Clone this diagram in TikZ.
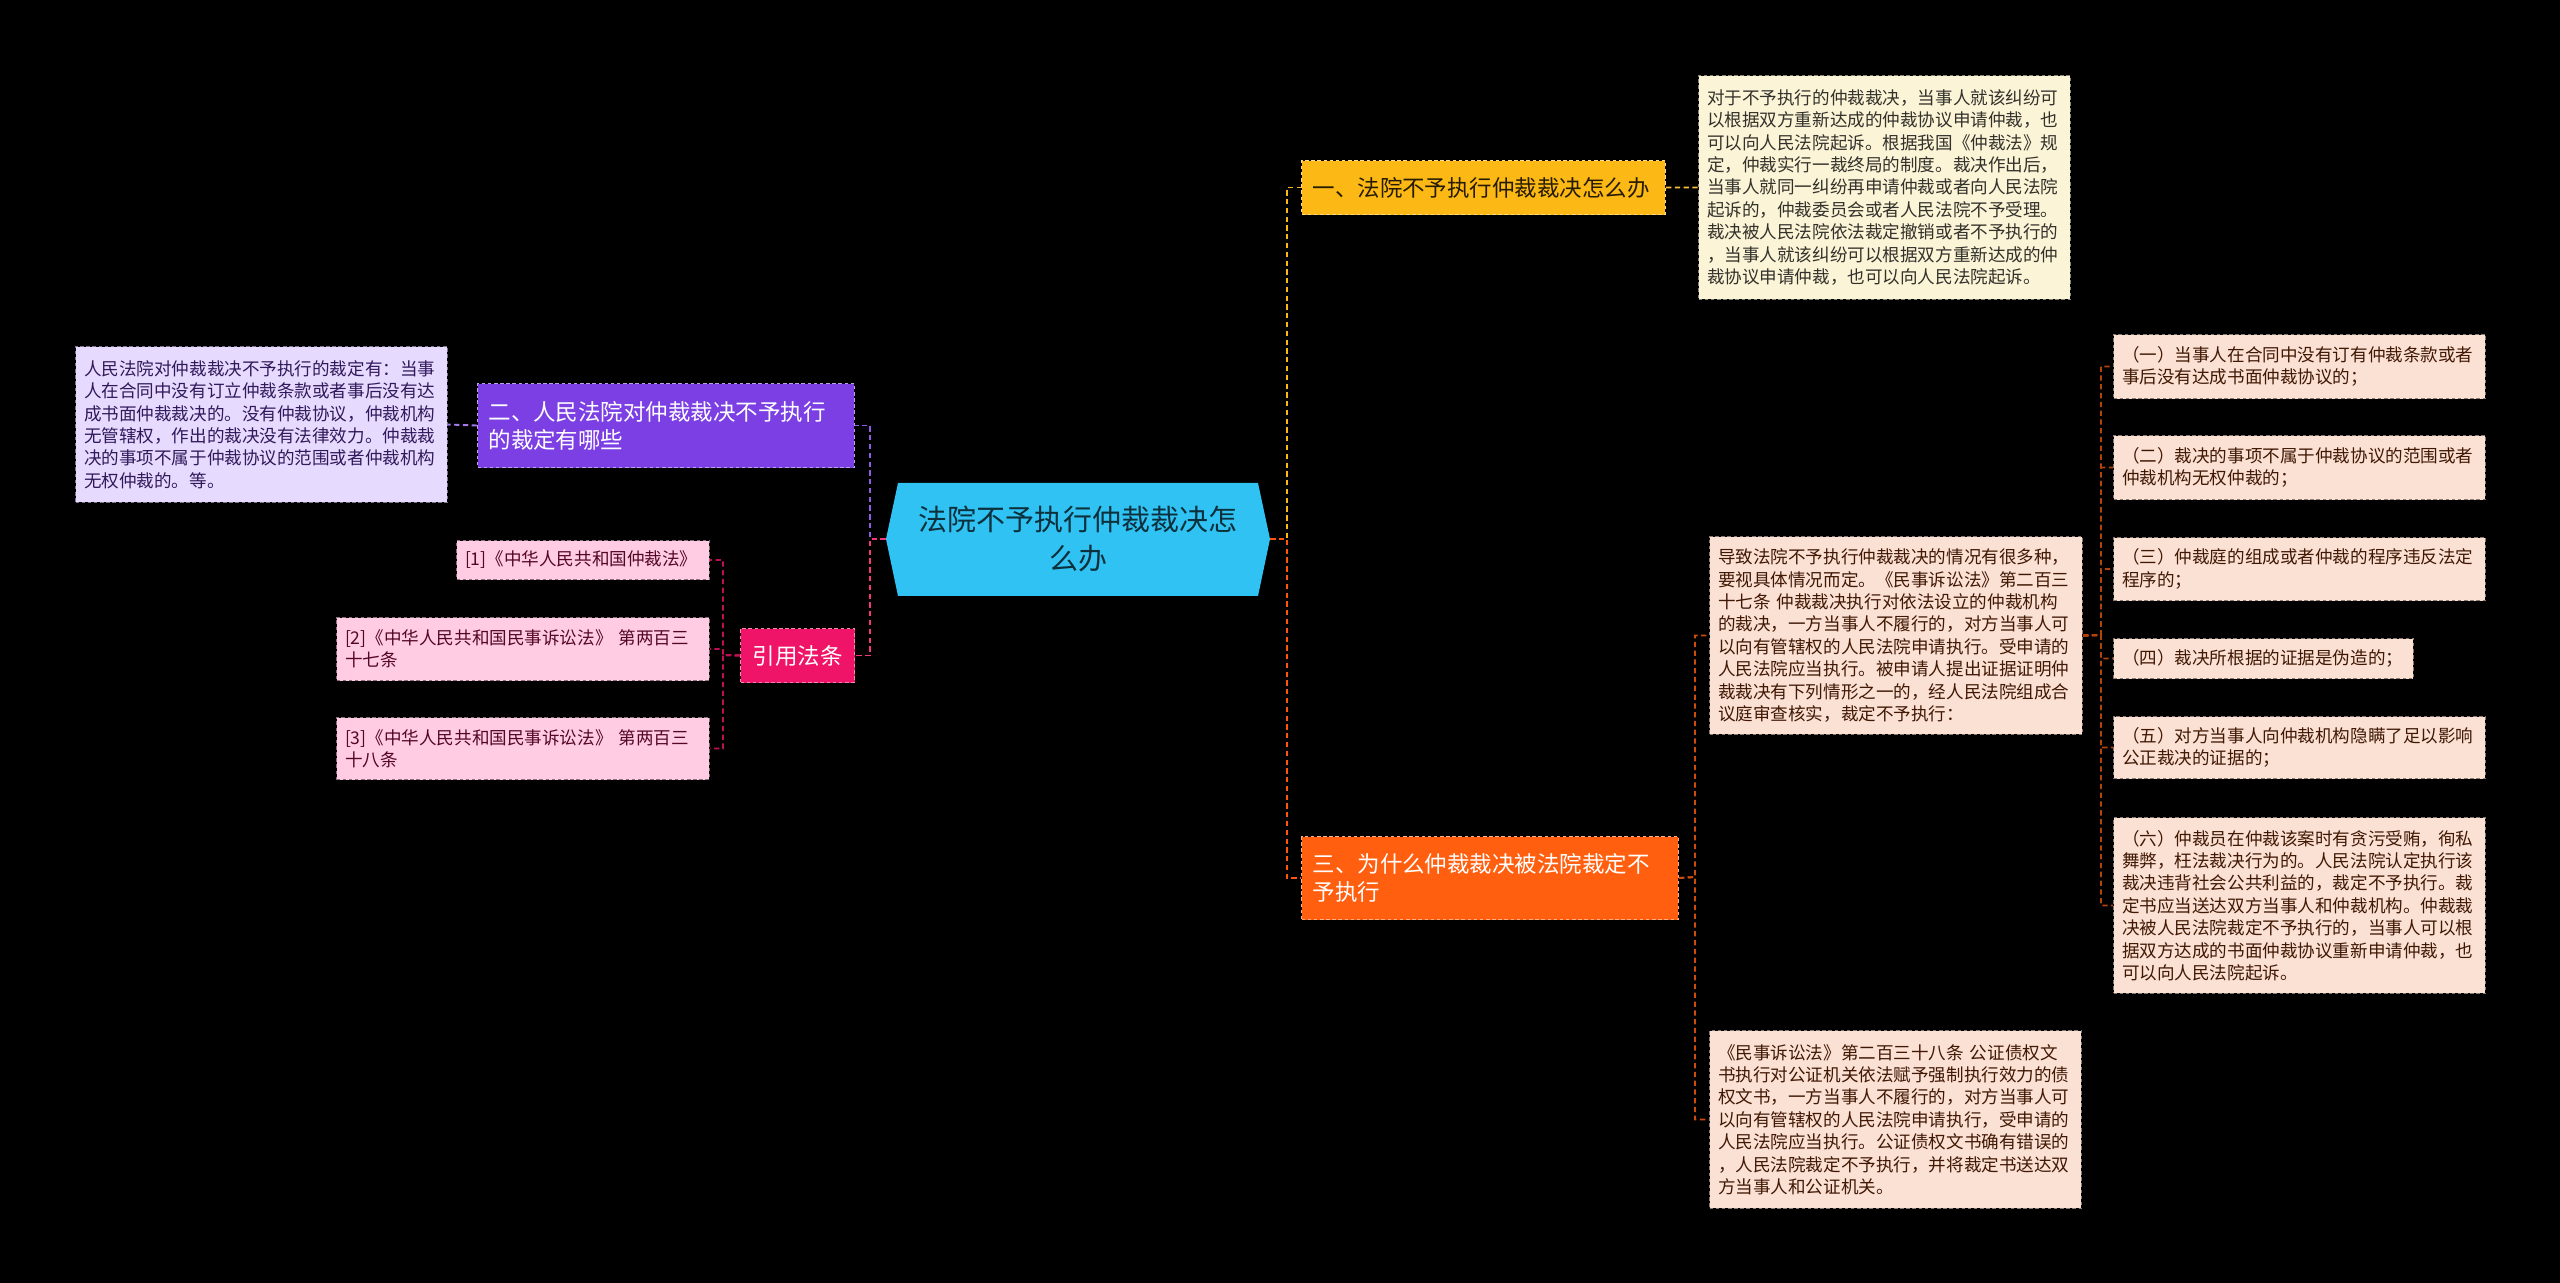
\documentclass[tikz,border=0pt]{standalone}
\usepackage{fontspec}
\setmainfont{Noto Sans CJK SC}
\usepackage{tikz}
\usepackage{xcolor}

\definecolor{rootblue}{HTML}{30C2F2}
\definecolor{qyellow}{HTML}{FCB814}
\definecolor{qpurple}{HTML}{7B3FE4}
\definecolor{qorange}{HTML}{FF5F0F}
\definecolor{qpink}{HTML}{F01468}
\definecolor{fyellow}{HTML}{FCF4D6}
\definecolor{fpurple}{HTML}{E6DBFF}
\definecolor{forange}{HTML}{FBE1D4}
\definecolor{fpink}{HTML}{FFCCE4}

\begin{document}
\begin{tikzpicture}[x=0.02cm,y=-0.02cm,
    link/.style={line width=1.1pt,dash pattern=on 3pt off 2pt},
    note/.style={anchor=north west,align=left,inner xsep=0.17cm,inner ysep=0pt,
        line width=0.6pt,dash pattern=on 2pt off 1.5pt,
        font=\fontsize{10pt}{12.75pt}\selectfont},
    noteY/.style={note,fill=fyellow,draw=fyellow!55!black,text=black!80!fyellow},
    noteP/.style={note,fill=fpurple,draw=fpurple!55!black,text=qpurple!40!black},
    noteO/.style={note,fill=forange,draw=forange!55!black,text=qorange!25!black},
    noteR/.style={note,fill=fpink,draw=fpink!55!black,text=qpink!35!black},
    topic/.style={anchor=north west,align=left,inner xsep=0.22cm,inner ysep=0pt,
        line width=0.6pt,dash pattern=on 2pt off 1.5pt,
        font=\fontsize{12.8pt}{16pt}\selectfont}]

    \fill[black] (0,0) rectangle (2560,1283);
    \useasboundingbox (0,0) rectangle (2560,1283);

    \fill[rootblue] (898,483) -- (1258,483) -- (1270,539) -- (1258,596)
        -- (898,596) -- (886,539) -- cycle;
    \node[minimum width=7.68cm,minimum height=2.26cm,text width=6.8cm,align=center,
        text=rootblue!25!black,font=\fontsize{16.5pt}{21.8pt}\selectfont]
        (root) at (1078,539) {法院不予执行仲裁裁决怎\\么办};

    \node[topic,fill=qyellow,draw=qyellow!50!white,text=black!85!qyellow,
        text width=6.84cm,minimum height=1.08cm] (q1) at (1301,160)
        {一、法院不予执行仲裁裁决怎么办};
    \node[topic,fill=qpurple,draw=qpurple!50!white,text=white,
        text width=7.1cm,minimum height=1.68cm] (q2) at (477,383)
        {二、人民法院对仲裁裁决不予执行\\的裁定有哪些};
    \node[topic,fill=qorange,draw=qorange!50!white,text=white,
        text width=7.1cm,minimum height=1.66cm] (q3) at (1301,836)
        {三、为什么仲裁裁决被法院裁定不\\予执行};
    \node[topic,fill=qpink,draw=qpink!50!white,text=white,align=center,
        minimum width=2.28cm,minimum height=1.08cm] (law) at (740,628) {引用法条};

    \node[noteY,text width=7.1cm,minimum height=4.48cm] (q1txt) at (1698,75)
        {对于不予执行的仲裁裁决，当事人就该纠纷可\\
         以根据双方重新达成的仲裁协议申请仲裁，也\\
         可以向人民法院起诉。根据我国《仲裁法》规\\
         定，仲裁实行一裁终局的制度。裁决作出后，\\
         当事人就同一纠纷再申请仲裁或者向人民法院\\
         起诉的，仲裁委员会或者人民法院不予受理。\\
         裁决被人民法院依法裁定撤销或者不予执行的\\
         ，当事人就该纠纷可以根据双方重新达成的仲\\
         裁协议申请仲裁，也可以向人民法院起诉。};

    \node[noteP,text width=7.1cm,minimum height=3.12cm] (q2txt) at (75,346)
        {人民法院对仲裁裁决不予执行的裁定有：当事\\
         人在合同中没有订立仲裁条款或者事后没有达\\
         成书面仲裁裁决的。没有仲裁协议，仲裁机构\\
         无管辖权，作出的裁决没有法律效力。仲裁裁\\
         决的事项不属于仲裁协议的范围或者仲裁机构\\
         无权仲裁的。等。};

    \node[noteO,text width=7.12cm,minimum height=3.96cm] (q3txt1) at (1709,536)
        {导致法院不予执行仲裁裁决的情况有很多种，\\
         要视具体情况而定。《民事诉讼法》第二百三\\
         十七条 仲裁裁决执行对依法设立的仲裁机构\\
         的裁决，一方当事人不履行的，对方当事人可\\
         以向有管辖权的人民法院申请执行。受申请的\\
         人民法院应当执行。被申请人提出证据证明仲\\
         裁裁决有下列情形之一的，经人民法院组成合\\
         议庭审查核实，裁定不予执行：};
    \node[noteO,text width=7.1cm,minimum height=3.56cm] (q3txt2) at (1709,1030)
        {《民事诉讼法》第二百三十八条 公证债权文\\
         书执行对公证机关依法赋予强制执行效力的债\\
         权文书，一方当事人不履行的，对方当事人可\\
         以向有管辖权的人民法院申请执行，受申请的\\
         人民法院应当执行。公证债权文书确有错误的\\
         ，人民法院裁定不予执行，并将裁定书送达双\\
         方当事人和公证机关。};

    \node[noteO,text width=7.1cm,minimum height=1.28cm] (case1) at (2113,334)
        {（一）当事人在合同中没有订有仲裁条款或者\\事后没有达成书面仲裁协议的；};
    \node[noteO,text width=7.1cm,minimum height=1.28cm] (case2) at (2113,435)
        {（二）裁决的事项不属于仲裁协议的范围或者\\仲裁机构无权仲裁的；};
    \node[noteO,text width=7.1cm,minimum height=1.26cm] (case3) at (2113,537)
        {（三）仲裁庭的组成或者仲裁的程序违反法定\\程序的；};
    \node[noteO,text width=5.66cm,minimum height=0.8cm] (case4) at (2113,638)
        {（四）裁决所根据的证据是伪造的；};
    \node[noteO,text width=7.1cm,minimum height=1.24cm] (case5) at (2113,716)
        {（五）对方当事人向仲裁机构隐瞒了足以影响\\公正裁决的证据的；};
    \node[noteO,text width=7.1cm,minimum height=3.52cm] (case6) at (2113,817)
        {（六）仲裁员在仲裁该案时有贪污受贿，徇私\\
         舞弊，枉法裁决行为的。人民法院认定执行该\\
         裁决违背社会公共利益的，裁定不予执行。裁\\
         定书应当送达双方当事人和仲裁机构。仲裁裁\\
         决被人民法院裁定不予执行的，当事人可以根\\
         据双方达成的书面仲裁协议重新申请仲裁，也\\
         可以向人民法院起诉。};

    \node[noteR,text width=4.72cm,minimum height=0.78cm] (law1) at (456,540)
        {[1]《中华人民共和国仲裁法》};
    \node[noteR,text width=7.12cm,minimum height=1.26cm] (law2) at (336,617)
        {[2]《中华人民共和国民事诉讼法》 第两百三\\十七条};
    \node[noteR,text width=7.12cm,minimum height=1.24cm] (law3) at (336,717)
        {[3]《中华人民共和国民事诉讼法》 第两百三\\十八条};

    \coordinate (lj) at (870,539);
    \coordinate (rj) at (1287,539);
    \coordinate (lawj) at (723,655);
    \coordinate (q3j) at (1695,877);
    \coordinate (casej) at (2101,635);

    \draw[link,qyellow] (root.east) -- (rj) |- (q1.west);
    \draw[link,qorange!90!red] (root.east) -- (rj) |- (q3.west);
    \draw[link,qpurple!85!white] (root.west) -- (lj) |- (q2.west -| q2.east);
    \draw[link,qpink!85!white] (root.west) -- (lj) |- (law.east);

    \draw[link,qyellow!85!white] (q1.east) -- (q1txt.west);
    \draw[link,qpurple!70!white] (q2.west) -- (q2txt.east);
    \draw[link,qorange!80!black] (q3.east) -- (q3j) |- (q3txt1.west);
    \draw[link,qorange!80!black] (q3.east) -- (q3j) |- (q3txt2.west);

    \foreach \c in {1,...,6}
        \draw[link,qorange!70!black] (q3txt1.east) -- (casej) |- (case\c.west);

    \foreach \l in {1,2,3}
        \draw[link,qpink!80!black] (law.west) -- (lawj) |- (law\l.east);
\end{tikzpicture}
\end{document}
